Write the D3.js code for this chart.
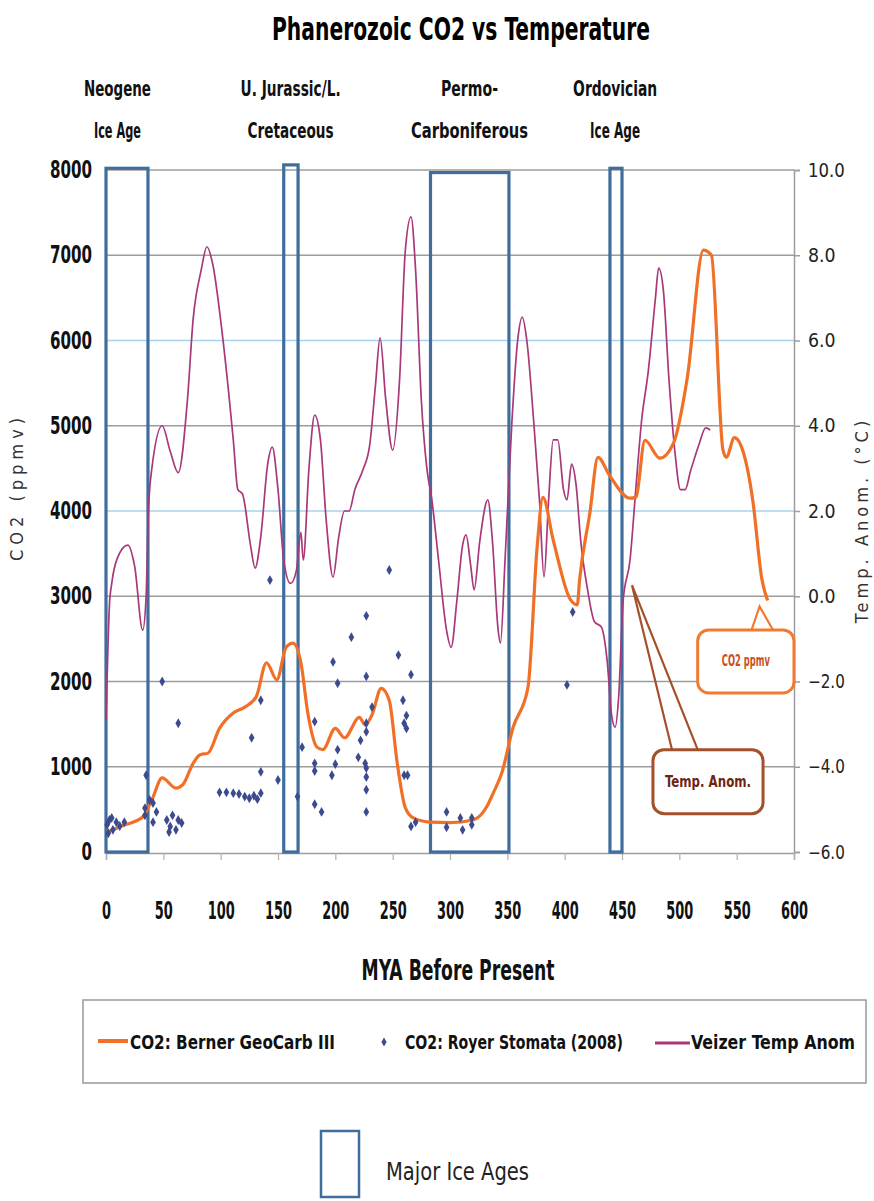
<!DOCTYPE html>
<html>
<head>
<meta charset="utf-8">
<script src="https://cdn.jsdelivr.net/npm/d3@7"></script>
<style>
  body { margin: 0; background: #fff; }
  text { font-family: "Liberation Sans Narrow", "DejaVu Sans Condensed", "Arial Narrow", sans-serif; }
</style>
</head>
<body>
<svg width="874" height="1201"></svg>
<script>
// ---- data ----
// Berner GeoCarb III CO2 (MYA, ppmv)
const geoCarb = [
  [1,235],[15,310],[32,410],[40,610],[49,870],[61,750],[67,790],[76,1040],[82,1140],[89,1160],
  [99,1450],[111,1630],[121,1700],[131,1820],[140,2220],[149,2020],[157,2400],[163,2450],
  [170,2220],[176,1630],[184,1230],[189,1200],[200,1450],[208,1340],[221,1580],[226,1490],
  [232,1610],[240,1920],[247,1780],[254,1040],[261,520],[268,400],[283,350],[300,345],
  [320,375],[332,530],[338,700],[345,920],[355,1460],[368,1930],[376,3580],[381,4160],
  [390,3660],[405,2960],[411,2900],[413,3190],[422,3980],[429,4630],[439,4420],[457,4150],
  [462,4160],[470,4830],[483,4620],[495,4800],[507,5570],[521,7060],[528,7000],[538,4720],
  [541,4630],[548,4860],[556,4680],[564,4130],[572,3200],[577,2950]
];

// Royer stomata CO2 points (MYA, ppmv)
const stomata = [
  [1,320],[3,375],[6,260],[9,350],[12,305],[16,350],[2,220],[5,400],
  [35,900],[34,515],[38,610],[41,575],[44,470],[41,350],[34,430],
  [49,2000],[63,1510],
  [53,375],[56,300],[58,430],[61,260],[63,375],[66,340],[55,235],
  [99,700],[105,700],[111,690],[116,680],[121,650],[125,630],[129,660],[132,620],[135,690],
  [127,1340],[135,1780],[135,940],[150,845],[143,3190],
  [167,650],[171,1230],[182,1530],[182,1040],[182,950],[182,560],[188,470],
  [197,900],[200,1030],[198,2230],[202,1980],[202,1200],[214,2520],[220,1110],[222,1310],
  [226,1040],[227,2770],[227,2060],[227,1510],[227,1410],[227,985],[227,880],[227,730],[227,470],
  [232,1700],[247,3308],[255,2310],[266,2080],[259,1780],[262,1600],[260,1510],[262,1450],
  [260,900],[263,900],[266,300],[270,350],
  [297,470],[297,290],[309,400],[311,260],[319,400],[319,320],
  [407,2815],[402,1960]
];

// Veizer temperature anomaly (MYA, degC)
const veizer = [
  [0,-2.9],[1,-1.9],[3,-0.2],[5,0.3],[10,0.9],[19,1.2],[25,0.7],[32,-0.8],[35,0.0],[37,2.0],
  [40,3.0],[49,4.0],[56,3.4],[63,2.9],[71,4.6],[76,6.5],[83,7.65],[88,8.2],[93,7.8],[101,6.25],
  [111,3.67],[115,2.5],[119,2.4],[126,1.2],[130,0.66],[135,1.4],[141,3.1],[145,3.5],[150,2.5],
  [155,0.85],[161,0.3],[166,0.6],[170,1.5],[172,0.85],[177,3.0],[182,4.25],[187,3.67],[192,1.8],
  [198,0.45],[203,1.4],[208,2.0],[212,2.0],[217,2.5],[224,2.96],[230,3.55],[235,4.95],[239,6.06],
  [244,4.6],[250,3.43],[256,5.07],[261,8.1],[266,8.9],[270,7.65],[275,4.6],[280,2.96],[284,2.3],
  [290,0.85],[297,-0.8],[301,-1.2],[306,-0.1],[311,1.2],[314,1.44],[318,0.73],[321,0.15],
  [326,1.3],[333,2.26],[337,1.3],[342,-0.8],[344,-1.1],[348,0.85],[354,4.1],[359,6.0],[363,6.55],
  [367,6.0],[373,4.1],[378,2.26],[382,0.45],[386,2.26],[390,3.67],[394,3.67],[399,2.5],[402,2.26],
  [406,3.1],[410,2.6],[414,1.3],[420,0.15],[426,-0.6],[432,-0.72],[437,-1.5],[441,-2.8],
  [444,-3.07],[447,-2.4],[451,-0.1],[457,0.85],[462,2.5],[467,4.1],[473,5.3],[479,6.95],
  [482,7.7],[486,7.2],[491,5.07],[496,3.43],[501,2.5],[505,2.5],[510,2.96],[517,3.55],
  [523,3.95],[527,3.9]
];

// Major ice ages: start, end (MYA), box top (ppmv)
const iceAgeStart = [0, 155, 283, 439.5];
const iceAgeEnd = [36.6, 167.5, 351.4, 450];
const iceAgeTop = [8020, 8060, 7970, 8020];
const iceAgeLine1 = ["Neogene", "U. Jurassic/L.", "Permo-", "Ordovician"];
const iceAgeLine2 = ["Ice Age", "Cretaceous", "Carboniferous", "Ice Age"];
const iceAgeLabelMya = [10, 161, 317, 444];

const co2Ticks = [0, 1000, 2000, 3000, 4000, 5000, 6000, 7000, 8000];
const tempTicks = [-6, -4, -2, 0, 2, 4, 6, 8, 10];
const myaTicks = [0, 50, 100, 150, 200, 250, 300, 350, 400, 450, 500, 550, 600];
const blueGrid = [4000, 6000];

// ---- layout ----
const svg = d3.select("svg");
const plot = {left: 106, right: 794, top: 170, bottom: 852};

const x = d3.scaleLinear().domain([0, 600]).range([plot.left, plot.right]);
const yCO2 = d3.scaleLinear().domain([0, 8000]).range([plot.bottom, plot.top]);
const yT = d3.scaleLinear().domain([-6, 10]).range([plot.bottom, plot.top]);

const orange = "#f07028", purple = "#a8387a", boxBlue = "#3f6e9c", dotBlue = "#3c4a8e";
const narrow = "'Liberation Sans Narrow','DejaVu Sans Condensed',sans-serif";

function squeeze(sel, perChar) {
  sel.attr("textLength", function() { return this.textContent.length * perChar; })
     .attr("lengthAdjust", "spacingAndGlyphs");
}

// title
svg.append("text")
  .attr("x", 461).attr("y", 40)
  .attr("text-anchor", "middle")
  .attr("font-size", 32).attr("font-weight", "bold")
  .attr("textLength", 378).attr("lengthAdjust", "spacingAndGlyphs")
  .text("Phanerozoic CO2 vs Temperature");

// gridlines
svg.append("g").selectAll("line")
  .data(co2Ticks.filter(d => d > 0))
  .join("line")
    .attr("x1", x(0)).attr("x2", x(600))
    .attr("y1", d => yCO2(d)).attr("y2", d => yCO2(d))
    .attr("stroke", d => blueGrid.includes(d) ? "#a9d3ea" : "#9c9c9c")
    .attr("stroke-width", 1.6);

// left axis
const gl = svg.append("g")
  .attr("transform", `translate(${plot.left},0)`)
  .call(d3.axisLeft(yCO2).tickValues(co2Ticks).tickSize(0).tickPadding(14).tickFormat(d3.format("d")));
gl.select(".domain").remove();
gl.selectAll("text")
  .attr("font-size", 24).attr("font-weight", "bold").attr("fill", "#111")
  .attr("font-family", narrow)
  .call(squeeze, 10.5);

// right axis
const gr = svg.append("g")
  .attr("transform", `translate(${plot.right},0)`)
  .call(d3.axisRight(yT).tickValues(tempTicks).tickSize(6).tickPadding(8).tickFormat(d3.format(".1f")));
gr.select(".domain").attr("stroke", "#9c9c9c").attr("stroke-width", 1.5);
gr.selectAll(".tick line").attr("stroke", "#9c9c9c").attr("stroke-width", 1.5);
gr.selectAll("text")
  .attr("font-size", 19).attr("fill", "#222")
  .attr("font-family", narrow)
  .call(squeeze, 9.2);

// bottom axis
const gb = svg.append("g")
  .attr("transform", `translate(0,${plot.bottom + 1})`)
  .call(d3.axisBottom(x).tickValues(myaTicks).tickSize(7).tickPadding(42));
gb.select(".domain").attr("stroke", "#9c9c9c").attr("stroke-width", 1.5);
gb.selectAll(".tick line").attr("stroke", "#b0b0b0").attr("stroke-width", 1.2);
gb.selectAll("text")
  .attr("font-size", 24).attr("font-weight", "bold").attr("fill", "#111")
  .attr("font-family", narrow)
  .call(squeeze, 9);

// axis titles
svg.append("text")
  .attr("transform", `translate(23,487) rotate(-90)`)
  .attr("text-anchor", "middle")
  .attr("font-size", 18).attr("fill", "#333")
  .attr("font-family", "'Liberation Sans','DejaVu Sans',sans-serif")
  .attr("letter-spacing", 5)
  .text("CO2 (ppmv)");

svg.append("text")
  .attr("transform", `translate(868,520) rotate(-90)`)
  .attr("text-anchor", "middle")
  .attr("font-size", 18).attr("fill", "#333")
  .attr("font-family", "'Liberation Sans','DejaVu Sans',sans-serif")
  .attr("letter-spacing", 4)
  .text("Temp. Anom. (°C)");

svg.append("text")
  .attr("x", 458).attr("y", 980)
  .attr("text-anchor", "middle")
  .attr("font-size", 28).attr("font-weight", "bold").attr("fill", "#111")
  .attr("textLength", 193).attr("lengthAdjust", "spacingAndGlyphs")
  .text("MYA Before Present");

// ice age labels
const line1W = [67, 100, 57, 84];
const line2W = [47, 86, 117, 50];
const lab = svg.append("g").attr("font-size", 21).attr("font-weight", "bold").attr("fill", "#111").attr("text-anchor", "middle");
lab.selectAll(".l1").data(iceAgeLine1).join("text")
  .attr("class", "l1")
  .attr("x", (d, i) => x(iceAgeLabelMya[i])).attr("y", 96)
  .attr("textLength", (d, i) => line1W[i]).attr("lengthAdjust", "spacingAndGlyphs")
  .text(d => d);
lab.selectAll(".l2").data(iceAgeLine2).join("text")
  .attr("class", "l2")
  .attr("x", (d, i) => x(iceAgeLabelMya[i])).attr("y", 138)
  .attr("textLength", (d, i) => line2W[i]).attr("lengthAdjust", "spacingAndGlyphs")
  .text(d => d);

// ice age boxes
svg.append("g").selectAll("rect")
  .data(iceAgeStart)
  .join("rect")
    .attr("x", d => x(d))
    .attr("y", (d, i) => yCO2(iceAgeTop[i]))
    .attr("width", (d, i) => x(iceAgeEnd[i]) - x(d))
    .attr("height", (d, i) => yCO2(0) - yCO2(iceAgeTop[i]))
    .attr("fill", "none")
    .attr("stroke", boxBlue)
    .attr("stroke-width", 3.2);

// temperature line
svg.append("path")
  .datum(veizer)
  .attr("fill", "none")
  .attr("stroke", purple)
  .attr("stroke-width", 1.7)
  .attr("d", d3.line().x(d => x(d[0])).y(d => yT(d[1])).curve(d3.curveMonotoneX));

// GeoCarb line
svg.append("path")
  .datum(geoCarb)
  .attr("fill", "none")
  .attr("stroke", orange)
  .attr("stroke-width", 3.2)
  .attr("stroke-linejoin", "round")
  .attr("d", d3.line().x(d => x(d[0])).y(d => yCO2(d[1])).curve(d3.curveMonotoneX));

// stomata points
svg.append("g").selectAll("path")
  .data(stomata)
  .join("path")
    .attr("transform", d => `translate(${x(d[0])},${yCO2(d[1])})`)
    .attr("d", d3.symbol(d3.symbolDiamond, 28))
    .attr("fill", dotBlue);

// callouts, placed in data units: [anchor mya, anchor value, base mya 1, base mya 2, box mya0, box mya1, box top, box bottom]
function callout(scaleY, a, stroke, label, textFill, fs, tl) {
  const [amx, amy, b1, b2, bx0, bx1, by0, by1] = a;
  const g = svg.append("g");
  g.append("path")
    .attr("d", `M${x(b1)},${scaleY(by0)}L${x(amx)},${scaleY(amy)}L${x(b2)},${scaleY(by0)}`)
    .attr("fill", "none").attr("stroke", stroke).attr("stroke-width", 2.2);
  g.append("rect")
    .attr("x", x(bx0)).attr("y", scaleY(by0))
    .attr("width", x(bx1) - x(bx0)).attr("height", scaleY(by1) - scaleY(by0))
    .attr("rx", 11)
    .attr("fill", "#fff").attr("stroke", stroke).attr("stroke-width", 3);
  g.append("text")
    .attr("x", (x(bx0) + x(bx1)) / 2).attr("y", (scaleY(by0) + scaleY(by1)) / 2 + 5)
    .attr("text-anchor", "middle")
    .attr("font-size", fs).attr("font-weight", "bold").attr("fill", textFill)
    .attr("textLength", tl).attr("lengthAdjust", "spacingAndGlyphs")
    .text(label);
}
callout(yT, [570, -0.24, 563, 581.7, 516, 600, -0.79, -2.27], "#f07a30", "CO2 ppmv", "#c8501a", 15, 48);
callout(yT, [458.7, 0.26, 493.6, 516, 477, 573, -3.6, -5.1], "#a4502a", "Temp. Anom.", "#6e2412", 16, 86);

// legend
const lg = svg.append("g");
lg.append("rect")
  .attr("x", 83).attr("y", 1000).attr("width", 783).attr("height", 83)
  .attr("fill", "#fff").attr("stroke", "#999").attr("stroke-width", 1.5);
lg.append("line").attr("x1", 98).attr("x2", 128).attr("y1", 1041).attr("y2", 1041)
  .attr("stroke", orange).attr("stroke-width", 4);
lg.append("path").attr("transform", "translate(384,1042)")
  .attr("d", d3.symbol(d3.symbolDiamond, 24)).attr("fill", dotBlue);
lg.append("line").attr("x1", 655).attr("x2", 690).attr("y1", 1043).attr("y2", 1043)
  .attr("stroke", purple).attr("stroke-width", 3);
const legendText = ["CO2: Berner GeoCarb III", "CO2: Royer Stomata (2008)", "Veizer Temp Anom"];
const legendX = [130, 405, 691];
const legendW = [205, 218, 164];
lg.selectAll("text").data(legendText).join("text")
  .attr("x", (d, i) => legendX[i]).attr("y", 1049)
  .attr("font-size", 19).attr("font-weight", "bold").attr("fill", "#111")
  .attr("textLength", (d, i) => legendW[i]).attr("lengthAdjust", "spacingAndGlyphs")
  .text(d => d);

// ice age key
svg.append("rect")
  .attr("x", 321).attr("y", 1131).attr("width", 38).attr("height", 66)
  .attr("fill", "#fff").attr("stroke", boxBlue).attr("stroke-width", 2.5);
svg.append("text")
  .attr("x", 386).attr("y", 1180)
  .attr("font-size", 25).attr("fill", "#222")
  .attr("textLength", 143).attr("lengthAdjust", "spacingAndGlyphs")
  .text("Major Ice Ages");
</script>
</body>
</html>
